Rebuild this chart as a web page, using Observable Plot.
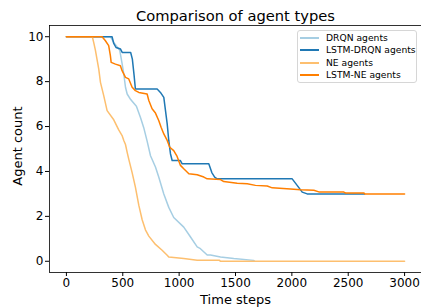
<!DOCTYPE html>
<html><head><meta charset="utf-8">
<script src="https://cdn.jsdelivr.net/npm/d3@7"></script>
<script src="https://cdn.jsdelivr.net/npm/@observablehq/plot@0.6"></script>
<style>
body{margin:0;background:#fff;}
#wrap{position:relative;width:421px;height:307px;overflow:hidden;font-family:"DejaVu Sans",sans-serif;}
#legend{position:absolute;left:297px;top:30px;width:120px;height:53px;border:1px solid #d6d6d6;border-radius:3px;background:rgba(255,255,255,0.8);box-sizing:border-box;}
.row{position:absolute;left:0;height:12px;width:118px;}
.sw{position:absolute;left:2px;top:5px;width:19px;height:2px;}
.lb{position:absolute;left:28px;top:0;font-size:9.2px;line-height:12px;color:#000;white-space:nowrap;}
</style>
</head><body>
<div id="wrap"><div id="chart"></div><div id="legend"></div></div>
<script>
const title = "Comparison of agent types";
const xLabel = "Time steps";
const yLabel = "Agent count";
const seriesNames = ["DRQN agents", "LSTM-DRQN agents", "NE agents", "LSTM-NE agents"];
const seriesColors = ["#a6cee3", "#1f78b4", "#fdbf6f", "#ff7f00"];
const xTicks = [0, 500, 1000, 1500, 2000, 2500, 3000];
const yTicks = [0, 2, 4, 6, 8, 10];

const drqnT = [0, 390, 420, 450, 473, 494, 509, 524, 539, 570, 621, 657, 686, 716, 746, 790, 819, 864, 908, 952, 1041, 1101, 1160, 1189, 1249, 1278, 1367, 1426, 1485, 1660, 1670];
const drqnV = [10, 10, 9.75, 9.55, 9.4, 8.8, 8.34, 7.75, 7.45, 7.2, 6.9, 6.4, 5.95, 5.35, 4.7, 4.2, 3.75, 3.0, 2.4, 1.95, 1.52, 1.08, 0.64, 0.56, 0.28, 0.28, 0.19, 0.16, 0.12, 0.04, 0];

const lstmDrqnT = [0, 405, 420, 440, 480, 495, 570, 585, 600, 612, 805, 834, 864, 879, 894, 908, 923, 938, 1010, 1027, 1263, 1290, 1315, 1337, 2003, 2047, 2092, 2136, 2645];
const lstmDrqnV = [10, 10, 9.7, 9.52, 9.45, 9.3, 9.3, 9.0, 8.3, 7.67, 7.67, 7.52, 7.3, 6.71, 6.12, 5.38, 4.79, 4.49, 4.49, 4.34, 4.34, 3.95, 3.75, 3.67, 3.67, 3.38, 3.08, 3.0, 3.0];

const neT = [0, 230, 242, 257, 287, 302, 331, 361, 420, 464, 494, 509, 524, 539, 553, 583, 612, 642, 672, 701, 731, 790, 849, 894, 908, 1041, 1160, 1358, 1365, 3000];
const neV = [10, 10, 9.75, 9.4, 8.56, 7.97, 7.38, 6.71, 6.3, 5.85, 5.6, 5.38, 5.2, 4.85, 4.55, 3.95, 3.3, 2.5, 1.85, 1.4, 1.12, 0.75, 0.49, 0.27, 0.19, 0.12, 0.05, 0.05, 0, 0];

const lstmNeT = [0, 317, 346, 375, 390, 397, 435, 479, 494, 524, 553, 583, 612, 642, 716, 731, 760, 790, 819, 840, 864, 894, 917, 952, 982, 1012, 1041, 1086, 1160, 1219, 1249, 1367, 1396, 1515, 1604, 1677, 1781, 1826, 1988, 2077, 2195, 2239, 2461, 2476, 2640, 2647, 3000];
const lstmNeV = [10, 10, 9.82, 9.6, 9.16, 8.86, 8.78, 8.71, 8.49, 8.19, 8.12, 7.75, 7.6, 7.52, 7.45, 7.16, 6.79, 6.6, 6.27, 5.97, 5.67, 5.38, 5.08, 4.93, 4.67, 4.27, 4.12, 3.9, 3.85, 3.75, 3.67, 3.64, 3.55, 3.48, 3.45, 3.38, 3.35, 3.27, 3.22, 3.18, 3.16, 3.09, 3.08, 3.04, 3.04, 3.0, 3.0];

const allT = [drqnT, lstmDrqnT, neT, lstmNeT];
const allV = [drqnV, lstmDrqnV, neV, lstmNeV];
const rows = [];
seriesNames.forEach((s, k) => allT[k].forEach((t, i) => rows.push({series: s, t, v: allV[k][i]})));

const chart = Plot.plot({
  width: 421, height: 307,
  marginLeft: 49, marginRight: 0, marginTop: 25, marginBottom: 35,
  style: {fontFamily: "DejaVu Sans", fontSize: "12px", color: "black", background: "white", overflow: "visible"},
  x: {domain: [-150, 3150]},
  y: {domain: [-0.5, 10.5]},
  color: {domain: seriesNames, range: seriesColors},
  marks: [
    ...seriesNames.map(s => Plot.line(rows.filter(r => r.series === s), {x: "t", y: "v", stroke: "series", strokeWidth: 1.5})),
    Plot.frame({stroke: "black", strokeWidth: 0.8}),
    Plot.axisX({ticks: xTicks, tickFormat: d3.format("d"), tickSize: 4, tickPadding: 2, label: null, fontSize: 12}),
    Plot.axisY({ticks: yTicks, tickFormat: d3.format("d"), tickSize: 4, tickPadding: 2, label: null, fontSize: 12}),
    Plot.text([title], {frameAnchor: "top", lineAnchor: "middle", dy: -9, fontSize: 14.7, text: d => d}),
    Plot.text([xLabel], {frameAnchor: "bottom", lineAnchor: "middle", dy: 27, fontSize: 13, text: d => d}),
    Plot.text([yLabel], {frameAnchor: "left", lineAnchor: "middle", textAnchor: "middle", dx: -32, dy: -3, rotate: -90, fontSize: 13, text: d => d})
  ]
});
document.getElementById("chart").appendChild(chart);

const legend = document.getElementById("legend");
const rowTops = [1, 13, 26, 38];
seriesNames.forEach((s, i) => {
  const row = document.createElement("div");
  row.className = "row";
  row.style.top = rowTops[i] + "px";
  const sw = document.createElement("div");
  sw.className = "sw";
  sw.style.background = seriesColors[i];
  const lb = document.createElement("div");
  lb.className = "lb";
  lb.textContent = s;
  row.appendChild(sw); row.appendChild(lb);
  legend.appendChild(row);
});
</script>
</body></html>
